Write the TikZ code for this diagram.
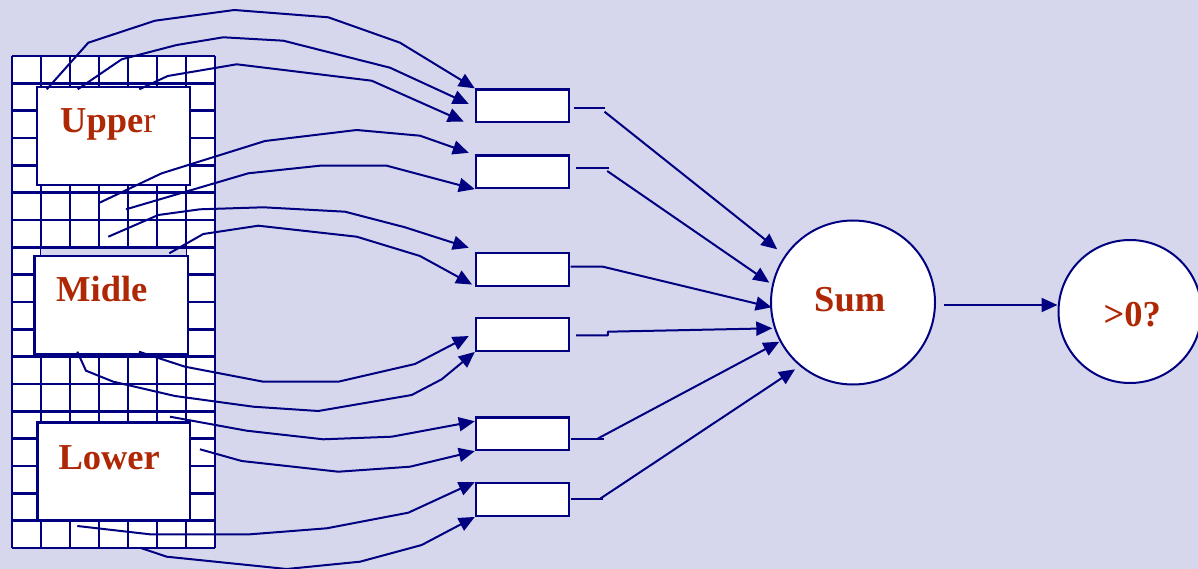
\documentclass[tikz,border=0pt]{standalone}
\usepackage{fontspec}
\setmainfont{Liberation Serif}
\usetikzlibrary{arrows.meta,calc}
\definecolor{bg}{RGB}{214,215,236}
\definecolor{navy}{RGB}{0,0,128}
\definecolor{txt}{RGB}{175,40,5}
\tikzset{
 gridline/.style={navy, line width=2.4pt},
 bigbox/.style={draw=navy, fill=white, line width=2.4pt, rectangle, inner sep=0pt},
 smallbox/.style={draw=navy, fill=white, line width=2.4pt, rectangle, minimum width=93pt, minimum height=32.5pt, inner sep=0pt},
 ring/.style={draw=navy, fill=white, line width=2pt, circle, inner sep=0pt},
 conn/.style={navy, line width=2pt, line join=round},
 arr/.style={conn, -{Triangle[length=16pt,width=14pt]}},
 lbl/.style={text=txt, font=\bfseries\fontsize{36.5}{40}\selectfont, anchor=base west, inner sep=0pt},
}
\begin{document}
\begin{tikzpicture}[x=1pt,y=-1pt]
\useasboundingbox (0,0) rectangle (1198,569);
\fill[bg] (0,0) rectangle (1198,569);
% grid
\fill[white] (11.7,56) rectangle (215,548);
\foreach \i in {0,...,7} \draw[gridline] ({11.7+29.04*\i},56) -- ({11.7+29.04*\i},548);
\foreach \j in {0,...,18} \draw[gridline] (11.7,{56+27.333*\j}) -- (215,{56+27.333*\j});
\fill[bg] (41.3,248.5) rectangle (185.7,256);
% big boxes
\node[bigbox, minimum width=153pt, minimum height=98pt] (up) at (113.5,136) {};
\node[bigbox, minimum width=153.4pt, minimum height=98pt] (mid) at (111,305) {};
\node[bigbox, minimum width=152.7pt, minimum height=97.3pt] (low) at (113.7,471.3) {};
% small boxes
\node[smallbox] (b1) at (522.5,105.8) {};
\node[smallbox] (b2) at (522.5,171.7) {};
\node[smallbox] (b3) at (522.5,269.5) {};
\node[smallbox] (b4) at (522.5,334.5) {};
\node[smallbox] (b5) at (522.5,433.7) {};
\node[smallbox] (b6) at (522.5,499.5) {};
% circles
\node[ring, minimum size=164pt] (sum) at (853,302.5) {};
\node[ring, minimum size=143pt] (gt) at (1130,311.5) {};
% start points
\coordinate (sA) at (46.7,89.3);
\coordinate (sB) at (77.7,89.3);
\coordinate (sC) at (139.3,89.3);
\coordinate (sD) at (98.3,203.3);
\coordinate (sE) at (126,209.3);
\coordinate (sF) at (108.3,236.7);
\coordinate (sG) at (169.3,253.3);
\coordinate (sH) at (139,351.7);
\coordinate (sI) at (77.3,351.7);
\coordinate (sJ) at (170,416.7);
\coordinate (sK) at (200,449.3);
\coordinate (sL) at (77.3,526);
\coordinate (sM) at (140,547.7);
% connectors to small boxes
\draw[arr] (sA) -- (88.3,42.7) -- (155,20.7) -- (234.3,10) -- (328.3,17.3) -- (400,42.7) -- (b1.north west);
\draw[arr] (sB) -- (121.7,59.3) -- (176.7,45) -- (223.3,37.3) -- (283.3,40.7) -- (390,67.7) -- ($(b1.west)+(-6,-1.8)$);
\draw[arr] (sC) -- (167.7,76) -- (236.7,64.3) -- (371.7,80.7) -- ($(b1.south west)+(-11,-1.6)$);
\draw[arr] (sD) -- (161.7,173.3) -- (265,141) -- (356.7,130) -- (420,135.7) -- ($(b2.north west)+(-6,-1.4)$);
\draw[arr] (sE) -- (248.3,173.3) -- (320,165.7) -- (386.7,165.7) -- (b2.south west);
\draw[arr] (sF) -- (158.3,215) -- (200,209.3) -- (263.3,207.3) -- (345,211.7) -- (405,227.3) -- ($(b3.north west)+(-6,-4.3)$);
\draw[arr] (sG) -- (203.3,234) -- (258.3,225.7) -- (356.7,236.7) -- (420,256) -- ($(b3.south west)+(-2.7,-2.4)$);
\draw[arr] (sH) -- (185,366.7) -- (263.3,381.7) -- (338.3,381.7) -- (415,364) -- ($(b4.west)+(-6,1.5)$);
\draw[arr] (sI) -- (86,370.7) -- (113.3,381.7) -- (175,396) -- (253.3,406.7) -- (318.3,411) -- (411.7,395) -- (441.7,379.3) -- (b4.south west);
\draw[arr] (sJ) -- (246.7,430.7) -- (323.3,439.3) -- (391.7,436.7) -- ($(b5.north west)+(0,5)$);
\draw[arr] (sK) -- (241.7,461) -- (338.3,471.7) -- (410,466.7) -- (b5.south west);
\draw[arr] (sL) -- (150,534.3) -- (250,534.3) -- (326.7,528.3) -- (408.3,512.7) -- (b6.north west);
\draw[arr] (sM) -- (166.7,556.7) -- (286.7,569) -- (360,561.7) -- (421.7,545) -- (b6.south west);
% connectors to sum
\draw[conn] ($(b1.east)+(4,2.5)$) -- ++(31,0);
\draw[arr] ($(b1.east)+(34.3,5.9)$) -- ($(sum.center)+(-75.7,-53.2)$);
\draw[conn] ($(b2.east)+(6,-3.4)$) -- ++(32.7,0);
\draw[arr] ($(b2.east)+(37,-0.7)$) -- ($(sum.center)+(-83.7,-19.8)$);
\draw[arr] ($(b3.east)+(0.3,-2.8)$) -- ++(32.4,0) -- ($(sum.center)+(-81.3,4.8)$);
\draw[arr] ($(b4.east)+(6,0.8)$) -- ++(31.7,0) -- ++(0,-3.6) -- ($(sum.center)+(-80.7,25.8)$);
\draw[conn] ($(b5.east)+(0.3,5.3)$) -- ++(33,0);
\draw[arr] ($(b5.east)+(27.7,4.8)$) -- ($(sum.center)+(-73.7,39.2)$);
\draw[conn] ($(b6.east)+(0.3,-0.5)$) -- ++(32.4,0);
\draw[arr] ($(b6.east)+(30.3,-1)$) -- ($(sum.center)+(-58,66.8)$);
\draw[arr] ($(sum.east)+(8,2.5)$) -- ($(gt.west)+(0,-6.5)$);
% labels
\node[lbl] (tU) at (60,132.7) {Uppe\textmd{r}};
\node[lbl] (tM) at (56,301.7) {Midle};
\node[lbl] (tL) at (58.3,469) {Lower};
\node[lbl] (tS) at (814,311.7) {Sum};
\node[lbl] (tG) at (1103.3,326) {>0?};
\end{tikzpicture}
\end{document}
